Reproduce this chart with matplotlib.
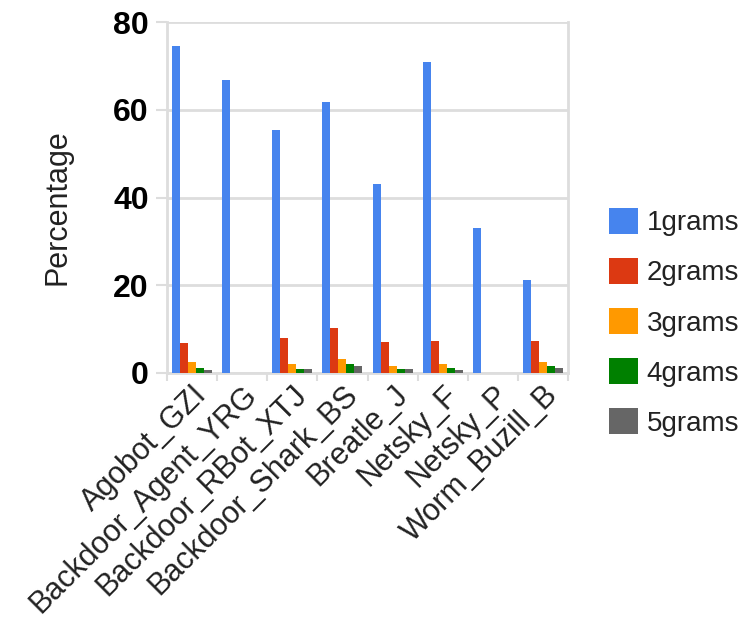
import numpy as np
import matplotlib
matplotlib.use("Agg")
import matplotlib.pyplot as plt
from matplotlib.ticker import FixedLocator

plt.rcParams['font.family'] = ['Liberation Sans', 'DejaVu Sans']

# n-gram coverage per sample (percent)
samples = ["Agobot_GZI", "Backdoor_Agent_YRG", "Backdoor_RBot_XTJ", "Backdoor_Shark_BS",
           "Breatle_J", "Netsky_F", "Netsky_P", "Worm_Buzill_B"]
grams_1 = [74.6, 66.8, 55.4, 61.8, 43.1, 70.9, 33.0, 21.2]
grams_2 = [6.9, 0.0, 7.9, 10.2, 7.0, 7.4, 0.0, 7.4]
grams_3 = [2.4, 0.0, 2.0, 3.3, 1.5, 2.0, 0.0, 2.4]
grams_4 = [1.1, 0.0, 1.0, 2.0, 1.0, 1.1, 0.0, 1.5]
grams_5 = [0.6, 0.0, 1.0, 1.5, 1.0, 0.6, 0.0, 1.1]
series_names = ["1grams", "2grams", "3grams", "4grams", "5grams"]
yticks = [0, 20, 40, 60, 80]

colors = ["#4684ee", "#dc3912", "#ff9900", "#008000", "#666666"]
series = [grams_1, grams_2, grams_3, grams_4, grams_5]

fig = plt.figure(figsize=(7.47, 6.23), dpi=100)
ax = fig.add_axes([167 / 747, 1 - 373 / 623, 401 / 747, 351 / 623])

x = np.arange(len(samples))
w = 0.16
handles = []
for i, (vals, c, name) in enumerate(zip(series, colors, series_names)):
    b = ax.bar(x + (i - 2) * w, vals, width=w, color=c, label=name,
               edgecolor="none", zorder=3)
    handles.append(b)

ax.set_xlim(-0.5, len(samples) - 0.5)
ax.set_ylim(0, 80)
ax.set_yticks(yticks)
ax.set_yticklabels([str(v) for v in yticks], fontsize=23, fontweight="bold")
ax.yaxis.grid(True, color="#dddddd", linewidth=2, zorder=0)
ax.tick_params(axis="y", length=8, width=1.5, color="#dddddd", pad=5)

ax.set_xticks(x)
ax.set_xticklabels(samples, rotation=45, ha="right", rotation_mode="anchor",
                   fontsize=22, color="#222222")
ax.tick_params(axis="x", which="major", length=0, pad=5)
ax.xaxis.set_minor_locator(FixedLocator(np.arange(-0.5, len(samples), 1.0)))
ax.tick_params(axis="x", which="minor", length=6, width=1.5, color="#dddddd")

for side in ["left", "right", "bottom", "top"]:
    ax.spines[side].set_color("#dddddd")
    ax.spines[side].set_linewidth(2)
ax.spines["top"].set_visible(False)

fig.text(58 / 747, 1 - 207 / 623, "Percentage", rotation=90, fontsize=22,
         ha="center", va="center", color="#222222")

fig.legend(handles=handles, labels=series_names, loc="upper left",
           bbox_to_anchor=(598 / 747, 1 - 197 / 623), frameon=False,
           fontsize=20, handlelength=1.05, handleheight=1.05,
           handletextpad=0.3, labelspacing=0.78, borderaxespad=0,
           labelcolor="#222222")

fig.savefig("out.png", dpi=100)
